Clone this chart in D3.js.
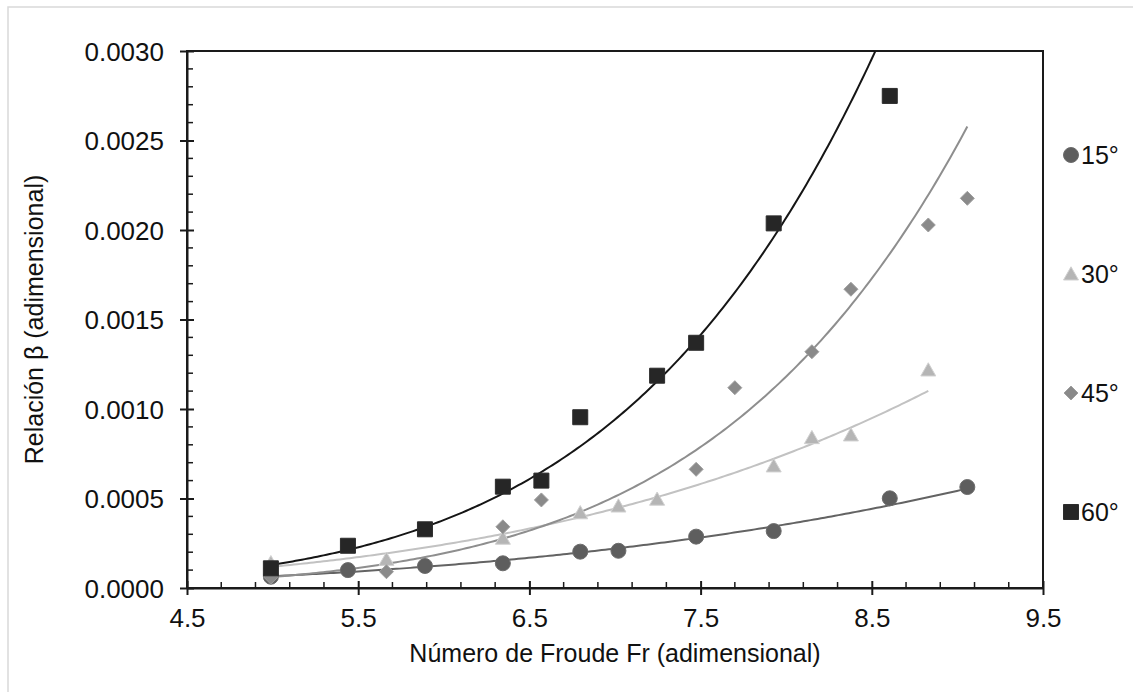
<!DOCTYPE html>
<html>
<head>
<meta charset="utf-8">
<script src="https://cdn.jsdelivr.net/npm/d3@7"></script>
<style>
  body { margin: 0; background: #fff; }
  svg { display: block; font-family: "Liberation Sans", Arial, sans-serif; }
</style>
</head>
<body>
<div id="chart"></div>
<script>
// values (Froude number vs beta ratio)
const fr15 = [4.99, 5.44, 5.89, 6.345, 6.797, 7.02, 7.474, 7.927, 8.605, 9.058];
const beta15 = [0.000063, 0.0001, 0.000123, 0.000138, 0.000203, 0.000208, 0.000287, 0.000318, 0.000501, 0.000564];
const fr30 = [4.99, 5.665, 6.345, 6.797, 7.02, 7.246, 7.927, 8.15, 8.378, 8.83];
const beta30 = [0.000141, 0.00016, 0.000278, 0.00042, 0.000458, 0.000496, 0.000682, 0.00084, 0.000855, 0.001218];
const fr45 = [4.99, 5.665, 6.345, 6.57, 7.474, 7.70, 8.15, 8.378, 8.83, 9.058];
const beta45 = [0.00006, 0.000091, 0.000342, 0.000492, 0.000663, 0.001119, 0.00132, 0.001669, 0.002028, 0.002177];
const fr60 = [4.99, 5.44, 5.89, 6.345, 6.57, 6.797, 7.246, 7.474, 7.927, 8.605];
const beta60 = [0.00011, 0.000236, 0.000328, 0.000566, 0.0006, 0.000954, 0.001186, 0.00137, 0.002037, 0.002749];

const seriesNames = ["15°", "30°", "45°", "60°"];
const xTicks = [4.5, 5.5, 6.5, 7.5, 8.5, 9.5];
const xTickLabels = ["4.5", "5.5", "6.5", "7.5", "8.5", "9.5"];
const yTicks = [0, 0.0005, 0.001, 0.0015, 0.002, 0.0025, 0.003];
const yTickLabels = ["0.0000", "0.0005", "0.0010", "0.0015", "0.0020", "0.0025", "0.0030"];

const width = 1133, height = 692;
const plotLeft = 187, plotRight = 1043, plotTop = 51, plotBottom = 588;

const svg = d3.select("#chart").append("svg")
    .attr("width", width)
    .attr("height", height);

// outer chart border (only top / left visible in the picture)
svg.append("rect")
    .attr("x", 8).attr("y", 7)
    .attr("width", width + 20).attr("height", height + 20)
    .attr("fill", "none")
    .attr("stroke", "#d9d9d9")
    .attr("stroke-width", 1.5);

const x = d3.scaleLinear().domain([4.5, 9.5]).range([plotLeft, plotRight]);
const y = d3.scaleLinear().domain([0, 0.003]).range([plotBottom, plotTop]);

svg.append("clipPath").attr("id", "plotClip")
    .append("rect")
    .attr("x", plotLeft).attr("y", plotTop)
    .attr("width", plotRight - plotLeft).attr("height", plotBottom - plotTop);

const series = [
    { name: seriesNames[0], xs: fr15, ys: beta15, shape: "circle",   fill: "#5e5e5e", line: "#636363" },
    { name: seriesNames[1], xs: fr30, ys: beta30, shape: "triangle", fill: "#b5b5b5", line: "#c2c2c2" },
    { name: seriesNames[2], xs: fr45, ys: beta45, shape: "diamond",  fill: "#8a8a8a", line: "#8e8e8e" },
    { name: seriesNames[3], xs: fr60, ys: beta60, shape: "square",   fill: "#262626", line: "#151515" }
];

// power trendline, least squares on ln(y) = ln(a) + b ln(x)
function powerFit(xs, ys) {
    const lx = xs.map(Math.log), ly = ys.map(Math.log);
    const mx = d3.mean(lx), my = d3.mean(ly);
    let sxy = 0, sxx = 0;
    lx.forEach((v, i) => { sxy += (v - mx) * (ly[i] - my); sxx += (v - mx) * (v - mx); });
    const b = sxy / sxx;
    const a = Math.exp(my - b * mx);
    return v => a * Math.pow(v, b);
}

function markerPath(shape, s) {
    const p = d3.path();
    if (shape === "circle") {
        p.arc(0, 0, s / 2, 0, 2 * Math.PI);
    } else if (shape === "square") {
        p.rect(-s / 2, -s / 2, s, s);
    } else if (shape === "diamond") {
        p.moveTo(0, -s / 2); p.lineTo(s / 2, 0); p.lineTo(0, s / 2); p.lineTo(-s / 2, 0); p.closePath();
    } else {
        p.moveTo(0, -s * 0.48); p.lineTo(s / 2, s * 0.4); p.lineTo(-s / 2, s * 0.4); p.closePath();
    }
    return p.toString();
}

// plot frame
svg.append("rect")
    .attr("x", plotLeft).attr("y", plotTop)
    .attr("width", plotRight - plotLeft).attr("height", plotBottom - plotTop)
    .attr("fill", "none")
    .attr("stroke", "#1a1a1a")
    .attr("stroke-width", 2);

// trendlines
const lineGen = d3.line().x(d => x(d[0])).y(d => y(d[1]));
const lines = svg.append("g").attr("clip-path", "url(#plotClip)");
series.forEach(s => {
    const f = powerFit(s.xs, s.ys);
    const x0 = d3.min(s.xs), x1 = d3.max(s.xs);
    const pts = d3.range(0, 201).map(i => {
        const v = x0 + (x1 - x0) * i / 200;
        return [v, f(v)];
    });
    lines.append("path")
        .attr("d", lineGen(pts))
        .attr("fill", "none")
        .attr("stroke", s.line)
        .attr("stroke-width", 2);
});

// markers
series.forEach(s => {
    svg.append("g").selectAll("path")
        .data(s.xs.map((v, i) => [v, s.ys[i]]))
        .enter().append("path")
        .attr("transform", d => `translate(${x(d[0])},${y(d[1])})`)
        .attr("d", markerPath(s.shape, s.shape === "diamond" ? 14 : 15))
        .attr("fill", s.fill)
        .attr("stroke", d3.color(s.fill).brighter(0.4))
        .attr("stroke-width", 1);
});

// axes
const xAxis = d3.axisBottom(x)
    .tickValues(xTicks)
    .tickFormat((d, i) => xTickLabels[i])
    .tickSizeInner(7).tickSizeOuter(0).tickPadding(14);
const gx = svg.append("g").attr("transform", `translate(0,${plotBottom})`).call(xAxis);
gx.selectAll(".tick line").attr("y1", -7).attr("stroke", "#1a1a1a").attr("stroke-width", 2);

const yAxis = d3.axisLeft(y)
    .tickValues(yTicks)
    .tickFormat((d, i) => yTickLabels[i])
    .tickSizeInner(7).tickSizeOuter(0).tickPadding(16);
const gy = svg.append("g").attr("transform", `translate(${plotLeft},0)`).call(yAxis);
gy.selectAll(".tick line").attr("x1", 7).attr("stroke", "#1a1a1a").attr("stroke-width", 2);

[gx, gy].forEach(g => {
    g.select(".domain").attr("stroke", "#1a1a1a").attr("stroke-width", 2);
    g.selectAll(".tick text")
        .attr("font-family", "'Liberation Sans', Arial, sans-serif")
        .attr("font-size", 26)
        .attr("fill", "#111");
});
gy.selectAll(".tick text").attr("dy", "0.36em");

// minor ticks (inside)
const xMinor = d3.range(1, 25).filter(i => i % 5 !== 0).map(i => 4.5 + i * 0.2);
svg.append("g").selectAll("line").data(xMinor).enter().append("line")
    .attr("x1", d => x(d)).attr("x2", d => x(d))
    .attr("y1", plotBottom).attr("y2", plotBottom - 6)
    .attr("stroke", "#1a1a1a").attr("stroke-width", 1.5);
const yMinor = d3.range(1, 30).filter(i => i % 5 !== 0).map(i => i * 0.0001);
svg.append("g").selectAll("line").data(yMinor).enter().append("line")
    .attr("x1", plotLeft).attr("x2", plotLeft + 6)
    .attr("y1", d => y(d)).attr("y2", d => y(d))
    .attr("stroke", "#1a1a1a").attr("stroke-width", 1.5);

// axis titles
svg.append("text")
    .attr("x", (plotLeft + plotRight) / 2).attr("y", 662)
    .attr("text-anchor", "middle")
    .attr("font-size", 25).attr("fill", "#111")
    .text("Número de Froude Fr (adimensional)");
svg.append("text")
    .attr("transform", `translate(43,${(plotTop + plotBottom) / 2}) rotate(-90)`)
    .attr("text-anchor", "middle")
    .attr("font-size", 25).attr("fill", "#111")
    .text("Relación β (adimensional)");

// legend
const legend = svg.append("g");
series.forEach((s, i) => {
    const ly = 155 + i * 119;
    legend.append("path")
        .attr("transform", `translate(1071,${ly})`)
        .attr("d", markerPath(s.shape, s.shape === "diamond" ? 14 : 15))
        .attr("fill", s.fill)
        .attr("stroke", d3.color(s.fill).brighter(0.4))
        .attr("stroke-width", 1);
    legend.append("text")
        .attr("x", 1081).attr("y", ly)
        .attr("dy", "0.36em")
        .attr("font-size", 25).attr("fill", "#111")
        .text(s.name);
});
</script>
</body>
</html>
